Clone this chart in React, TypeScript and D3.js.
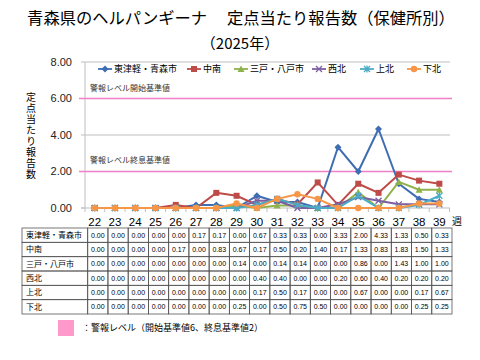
import * as d3 from "d3";

const weeks = ["22", "23", "24", "25", "26", "27", "28", "29", "30", "31", "32", "33", "34", "35", "36", "37", "38", "39"];
const seriesNames = ["東津軽・青森市", "中南", "三戸・八戸市", "西北", "上北", "下北"];
const higashiTsugaru = [0, 0, 0, 0, 0, 0.17, 0.17, 0, 0.67, 0.33, 0.33, 0, 3.33, 2.0, 4.33, 1.33, 0.5, 0.33];
const chunan = [0, 0, 0, 0, 0.17, 0, 0.83, 0.67, 0.17, 0.5, 0.2, 1.4, 0.17, 1.33, 0.83, 1.83, 1.5, 1.33];
const sannohe = [0, 0, 0, 0, 0, 0, 0, 0.14, 0, 0.14, 0.14, 0, 0, 0.86, 0, 1.43, 1.0, 1.0];
const seihoku = [0, 0, 0, 0, 0, 0, 0, 0, 0.4, 0.4, 0, 0, 0.2, 0.6, 0.4, 0.2, 0.2, 0.2];
const kamikita = [0, 0, 0, 0, 0, 0, 0, 0, 0.17, 0.5, 0.17, 0, 0, 0.67, 0, 0, 0.17, 0.67];
const shimokita = [0, 0, 0, 0, 0, 0, 0, 0.25, 0, 0.5, 0.75, 0.5, 0, 0, 0, 0, 0.25, 0.25];
const seriesValues = [higashiTsugaru, chunan, sannohe, seihoku, kamikita, shimokita];
const colors = ["#3E6DB3", "#BE4B48", "#8FB24B", "#7D5FA0", "#4BACC6", "#F79646"];
const markers = ["diamond", "square", "triangle", "x", "star", "circle"];
const yTicks = [0, 2, 4, 6, 8];
const alertStart = 6;
const alertEnd = 2;

const font = "'Noto Sans CJK JP', 'Noto Sans', sans-serif";
const gridColor = "#BFBFBF";
const pink = "#F080C8";

function Marker({ kind, x, y, color }: { kind: string; x: number; y: number; color: string }) {
  const s = 3;
  if (kind === "diamond")
    return <path d={`M${x},${y - 3.5}L${x + 3.5},${y}L${x},${y + 3.5}L${x - 3.5},${y}Z`} fill={color} />;
  if (kind === "square") return <rect x={x - s} y={y - s} width={s * 2} height={s * 2} fill={color} />;
  if (kind === "triangle")
    return <path d={`M${x},${y - 3.5}L${x + 3.5},${y + 3}L${x - 3.5},${y + 3}Z`} fill={color} />;
  if (kind === "x")
    return (
      <path d={`M${x - s},${y - s}L${x + s},${y + s}M${x - s},${y + s}L${x + s},${y - s}`} stroke={color} strokeWidth={1.3} />
    );
  if (kind === "star")
    return (
      <path
        d={`M${x - s},${y - s}L${x + s},${y + s}M${x - s},${y + s}L${x + s},${y - s}M${x},${y - s - 0.5}L${x},${y + s + 0.5}`}
        stroke={color}
        strokeWidth={1.3}
      />
    );
  return <circle cx={x} cy={y} r={3.2} fill={color} />;
}

export default function App() {
  const width = 480;
  const height = 360;
  const plot = { left: 85, right: 450, top: 62, bottom: 208 };

  const x = d3.scaleBand<string>().domain(weeks).range([84.5, 449.5]);
  const y = d3.scaleLinear().domain([0, 8]).range([plot.bottom, plot.top]);
  const cx = (w: string) => (x(w) ?? 0) + x.bandwidth() / 2;

  const line = d3
    .line<number>()
    .x((_, i) => cx(weeks[i]))
    .y((d) => y(d));

  // table layout
  const tableLeft = 22;
  const labelRight = 87.7;
  const tableX = d3.scaleBand<string>().domain(weeks).range([labelRight, 452]);
  const tableY = d3.scaleBand<string>().domain(seriesNames).range([228, 314]);

  const legendX = [98, 187, 234, 312, 360, 407];

  return (
    <div style={{ position: "absolute", left: 0, top: 0 }}>
      <svg width={width} height={height} style={{ display: "block", background: "#fff", fontFamily: font }}>
        {/* title */}
        <text x={241} y={24} textAnchor="middle" fontSize={16.3} fill="#000">
          青森県のヘルパンギーナ　 定点当たり報告数（保健所別）
        </text>
        <text x={240} y={49} textAnchor="middle" fontSize={15} fill="#000">
          （2025年）
        </text>

        {/* grid */}
        {yTicks
          .filter((t) => t !== 0 && t !== alertStart && t !== alertEnd)
          .map((t) => (
            <line key={t} x1={plot.left} x2={plot.right} y1={y(t)} y2={y(t)} stroke={gridColor} strokeWidth={1} />
          ))}
        {/* axes */}
        <line x1={plot.left} x2={plot.left} y1={plot.top} y2={plot.bottom + 4} stroke={gridColor} />
        <line x1={plot.left - 4} x2={plot.right} y1={plot.bottom} y2={plot.bottom} stroke={gridColor} />
        {yTicks.map((t) => (
          <g key={t}>
            <line x1={plot.left - 4} x2={plot.left} y1={y(t)} y2={y(t)} stroke={gridColor} />
            <text x={72} y={y(t)} dy="0.35em" textAnchor="end" fontSize={11} fill="#222" fontFamily="'Liberation Sans', Arial, sans-serif">
              {t.toFixed(2)}
            </text>
          </g>
        ))}
        {weeks.map((w) => (
          <g key={w}>
            <line x1={(x(w) ?? 0) + x.bandwidth()} x2={(x(w) ?? 0) + x.bandwidth()} y1={plot.bottom} y2={plot.bottom + 4} stroke={gridColor} />
            <text x={cx(w)} y={226} textAnchor="middle" fontSize={11.5} fill="#000" fontFamily="'Liberation Sans', Arial, sans-serif">
              {w}
            </text>
          </g>
        ))}
        <text x={452} y={225} fontSize={10} fill="#000">
          週
        </text>

        {/* alert lines */}
        {[alertStart, alertEnd].map((t) => (
          <line key={t} x1={plot.left - 6} x2={452} y1={y(t)} y2={y(t)} stroke={pink} strokeWidth={1.5} />
        ))}
        <text x={90} y={y(alertStart) - 10} dy="0.35em" fontSize={8} fill="#333">
          警報レベル開始基準値
        </text>
        <text x={90} y={y(alertEnd) - 11} dy="0.35em" fontSize={8} fill="#333">
          警報レベル終息基準値
        </text>

        {/* y title, vertical */}
        <text
          x={31}
          y={92}
          fontSize={10}
          fill="#000"
          letterSpacing={1}
          style={{ writingMode: "vertical-rl", textOrientation: "upright" } as React.CSSProperties}
        >
          定点当たり報告数
        </text>

        {/* series */}
        {seriesValues.map((vals, si) => (
          <g key={si}>
            <path d={line(vals) ?? ""} fill="none" stroke={colors[si]} strokeWidth={2} strokeLinejoin="round" />
            {vals.map((v, i) => (
              <Marker key={i} kind={markers[si]} x={cx(weeks[i])} y={y(v)} color={colors[si]} />
            ))}
          </g>
        ))}

        {/* legend */}
        {seriesNames.map((n, i) => (
          <g key={n}>
            <line x1={legendX[i]} x2={legendX[i] + 14} y1={69} y2={69} stroke={colors[i]} strokeWidth={1.8} />
            <Marker kind={markers[i]} x={legendX[i] + 7} y={69} color={colors[i]} />
            <text x={legendX[i] + 16} y={69} dy="0.35em" fontSize={9} fill="#000">
              {n}
            </text>
          </g>
        ))}

        {/* data table */}
        <g>
          {seriesNames.map((n, si) => {
            const ry = tableY(n) ?? 0;
            const rh = tableY.bandwidth();
            return (
              <g key={n}>
                <rect x={tableLeft} y={ry} width={labelRight - tableLeft} height={rh} fill="none" stroke="#555" strokeWidth={0.8} />
                <text x={tableLeft + 4} y={ry + rh / 2} dy="0.35em" fontSize={8} fill="#000">
                  {n}
                </text>
                {weeks.map((w, i) => (
                  <g key={w}>
                    <rect x={tableX(w)} y={ry} width={tableX.bandwidth()} height={rh} fill="none" stroke="#555" strokeWidth={0.8} />
                    <text
                      x={(tableX(w) ?? 0) + tableX.bandwidth() / 2}
                      y={ry + rh / 2}
                      dy="0.35em"
                      textAnchor="middle"
                      fontSize={7}
                      fill="#000"
                      fontFamily="'Liberation Sans', Arial, sans-serif"
                    >
                      {seriesValues[si][i].toFixed(2)}
                    </text>
                  </g>
                ))}
              </g>
            );
          })}
        </g>

        {/* bottom legend */}
        <rect x={58} y={320} width={16} height={16} fill="#FF99CC" />
        <text x={82} y={328} dy="0.35em" fontSize={9} fill="#000">
          ：警報レベル（開始基準値6、終息基準値2）
        </text>
      </svg>
    </div>
  );
}
